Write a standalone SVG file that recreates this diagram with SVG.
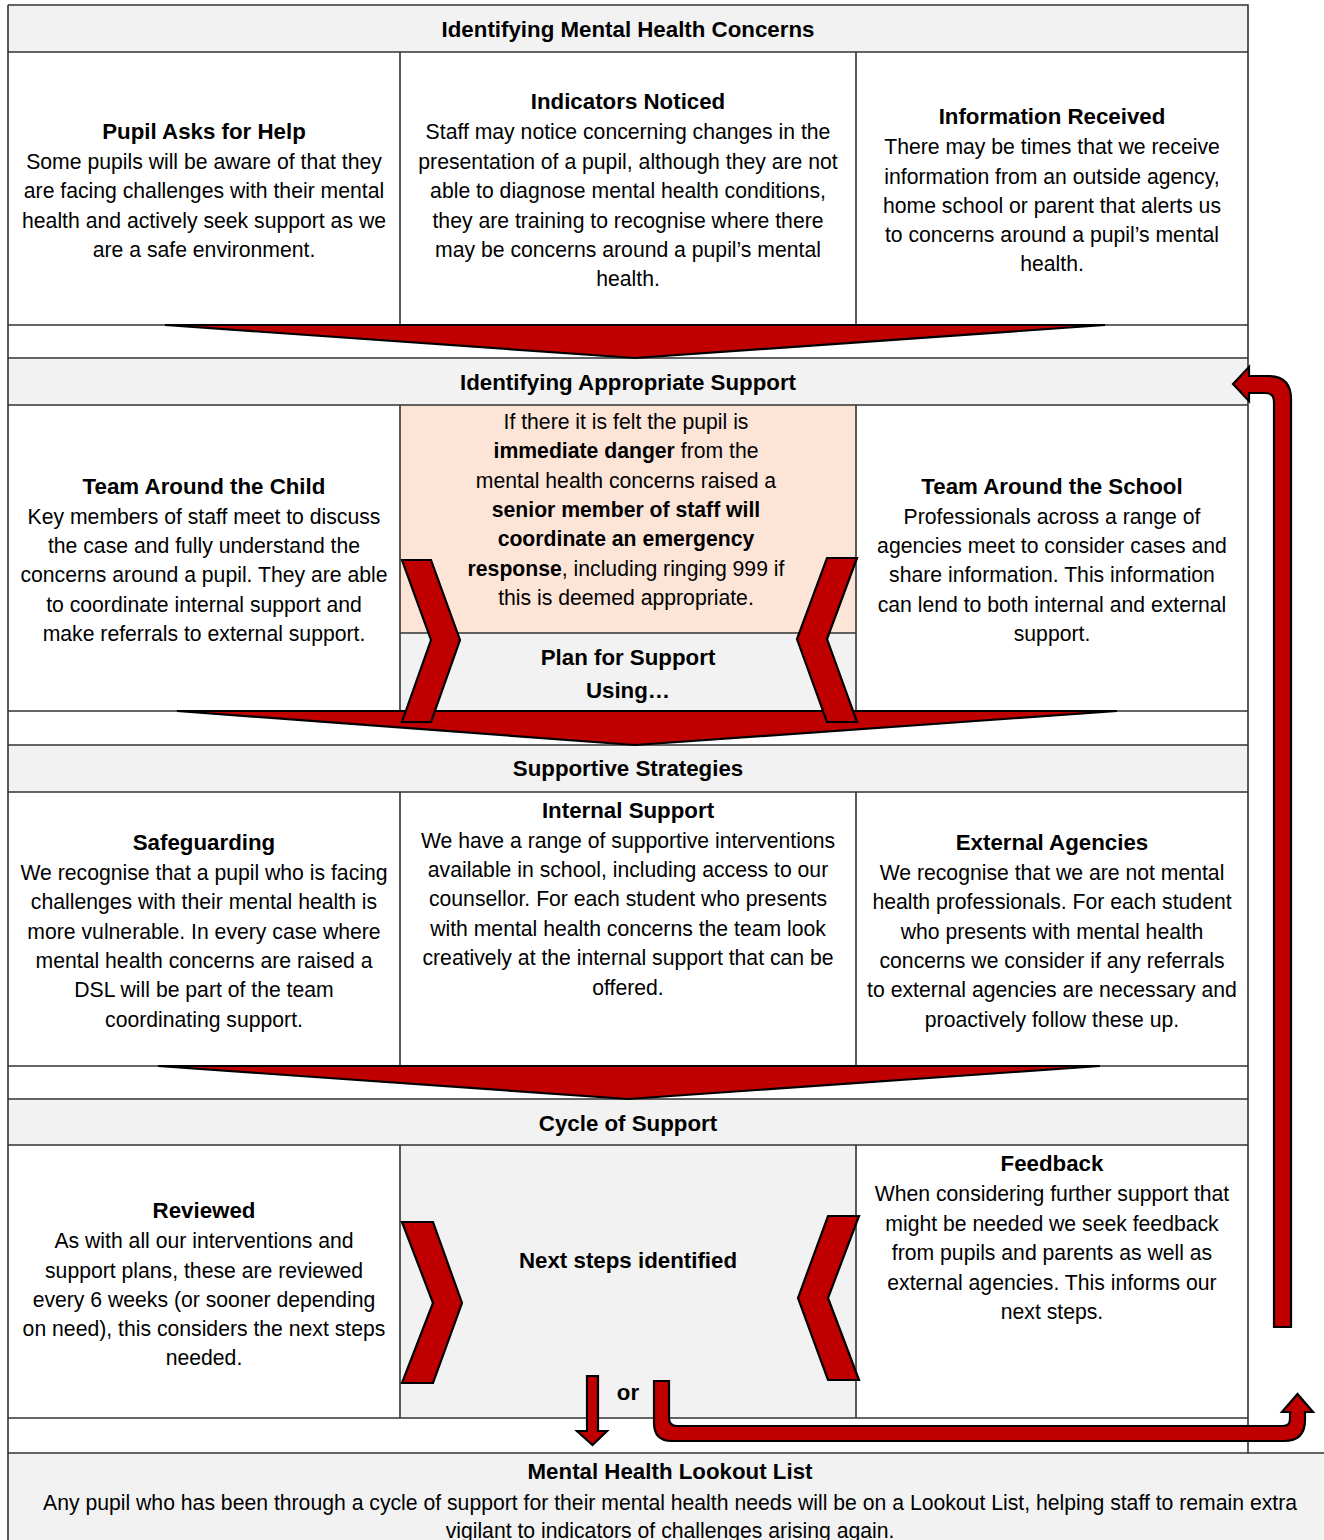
<svg xmlns="http://www.w3.org/2000/svg" width="1324" height="1540" viewBox="0 0 1324 1540">
<style>
text{font-family:"Liberation Sans",Arial,sans-serif;font-size:21.2px;fill:#000;text-anchor:middle}
.t{font-weight:bold;font-size:22.3px}
.b{font-weight:bold}
.hd{fill:#f2f2f2}
.ln{stroke:#333;stroke-width:1.6;fill:none}
.red{fill:#c00000;stroke:#000;stroke-width:2.2;stroke-linejoin:miter}
</style>
<rect width="1324" height="1540" fill="#fff"/>
<g id="grid">
<rect class="hd" x="8" y="5" width="1240" height="47"/>
<rect class="hd" x="8" y="358" width="1240" height="47"/>
<rect class="hd" x="8" y="745" width="1240" height="47"/>
<rect class="hd" x="8" y="1099" width="1240" height="46"/>
<rect fill="#fce4d6" x="400" y="405" width="456" height="228"/>
<rect class="hd" x="400" y="633" width="456" height="78"/>
<rect class="hd" x="400" y="1145" width="456" height="273"/>
<rect class="hd" x="8" y="1453" width="1330" height="90"/>
<path class="ln" d="M8,5H1248V1453M8,5V1540M8,52H1248M8,325H1248M8,358H1248M8,405H1248M8,711H1248M8,745H1248M8,792H1248M8,1066H1248M8,1099H1248M8,1145H1248M8,1418H1248M8,1453H1324M400,52V325M856,52V325M400,405V711M856,405V711M400,633H856M400,792V1066M856,792V1066M400,1145V1418M856,1145V1418"/>
</g>
<g id="h1"><text class="t" x="628" y="37">Identifying Mental Health Concerns</text></g>
<g id="pupil-asks">
<text class="t" x="204" y="139">Pupil Asks for Help</text>
<text x="204" y="169">Some pupils will be aware of that they</text>
<text x="204" y="198">are facing challenges with their mental</text>
<text x="204" y="228">health and actively seek support as we</text>
<text x="204" y="257">are a safe environment.</text>
</g>
<g id="indicators">
<text class="t" x="628" y="109">Indicators Noticed</text>
<text x="628" y="139">Staff may notice concerning changes in the</text>
<text x="628" y="169">presentation of a pupil, although they are not</text>
<text x="628" y="198">able to diagnose mental health conditions,</text>
<text x="628" y="228">they are training to recognise where there</text>
<text x="628" y="257">may be concerns around a pupil’s mental</text>
<text x="628" y="286">health.</text>
</g>
<g id="info-received">
<text class="t" x="1052" y="124">Information Received</text>
<text x="1052" y="154">There may be times that we receive</text>
<text x="1052" y="184">information from an outside agency,</text>
<text x="1052" y="213">home school or parent that alerts us</text>
<text x="1052" y="242">to concerns around a pupil’s mental</text>
<text x="1052" y="271">health.</text>
</g>
<g id="h2"><text class="t" x="628" y="390">Identifying Appropriate Support</text></g>
<g id="tac">
<text class="t" x="204" y="494">Team Around the Child</text>
<text x="204" y="524">Key members of staff meet to discuss</text>
<text x="204" y="553">the case and fully understand the</text>
<text x="204" y="582">concerns around a pupil. They are able</text>
<text x="204" y="612">to coordinate internal support and</text>
<text x="204" y="641">make referrals to external support.</text>
</g>
<g id="emergency">
<text x="626" y="429">If there it is felt the pupil is</text>
<text x="626" y="458"><tspan class="b">immediate danger</tspan> from the</text>
<text x="626" y="488">mental health concerns raised a</text>
<text x="626" y="517" class="b">senior member of staff will</text>
<text x="626" y="546" class="b">coordinate an emergency</text>
<text x="626" y="576"><tspan class="b">response</tspan>, including ringing 999 if</text>
<text x="626" y="605">this is deemed appropriate.</text>
</g>
<g id="plan">
<text class="t" x="628" y="665">Plan for Support</text>
<text class="t" x="628" y="698">Using…</text>
</g>
<g id="tas">
<text class="t" x="1052" y="494">Team Around the School</text>
<text x="1052" y="524">Professionals across a range of</text>
<text x="1052" y="553">agencies meet to consider cases and</text>
<text x="1052" y="582">share information. This information</text>
<text x="1052" y="612">can lend to both internal and external</text>
<text x="1052" y="641">support.</text>
</g>
<g id="h3"><text class="t" x="628" y="776">Supportive Strategies</text></g>
<g id="safeguarding">
<text class="t" x="204" y="850">Safeguarding</text>
<text x="204" y="880">We recognise that a pupil who is facing</text>
<text x="204" y="909">challenges with their mental health is</text>
<text x="204" y="939">more vulnerable. In every case where</text>
<text x="204" y="968">mental health concerns are raised a</text>
<text x="204" y="997">DSL will be part of the team</text>
<text x="204" y="1027">coordinating support.</text>
</g>
<g id="internal">
<text class="t" x="628" y="818">Internal Support</text>
<text x="628" y="848">We have a range of supportive interventions</text>
<text x="628" y="877">available in school, including access to our</text>
<text x="628" y="906">counsellor. For each student who presents</text>
<text x="628" y="936">with mental health concerns the team look</text>
<text x="628" y="965">creatively at the internal support that can be</text>
<text x="628" y="995">offered.</text>
</g>
<g id="external">
<text class="t" x="1052" y="850">External Agencies</text>
<text x="1052" y="880">We recognise that we are not mental</text>
<text x="1052" y="909">health professionals. For each student</text>
<text x="1052" y="939">who presents with mental health</text>
<text x="1052" y="968">concerns we consider if any referrals</text>
<text x="1052" y="997">to external agencies are necessary and</text>
<text x="1052" y="1027">proactively follow these up.</text>
</g>
<g id="h4"><text class="t" x="628" y="1131">Cycle of Support</text></g>
<g id="reviewed">
<text class="t" x="204" y="1218">Reviewed</text>
<text x="204" y="1248">As with all our interventions and</text>
<text x="204" y="1278">support plans, these are reviewed</text>
<text x="204" y="1307">every 6 weeks (or sooner depending</text>
<text x="204" y="1336">on need), this considers the next steps</text>
<text x="204" y="1365">needed.</text>
</g>
<g id="next-steps"><text class="t" x="628" y="1268">Next steps identified</text></g>
<g id="feedback">
<text class="t" x="1052" y="1171">Feedback</text>
<text x="1052" y="1201">When considering further support that</text>
<text x="1052" y="1231">might be needed we seek feedback</text>
<text x="1052" y="1260">from pupils and parents as well as</text>
<text x="1052" y="1290">external agencies. This informs our</text>
<text x="1052" y="1319">next steps.</text>
</g>
<g id="lookout">
<text class="t" x="670" y="1479">Mental Health Lookout List</text>
<text x="670" y="1510">Any pupil who has been through a cycle of support for their mental health needs will be on a Lookout List, helping staff to remain extra</text>
<text x="670" y="1538">vigilant to indicators of challenges arising again.</text>
</g>
<g id="connectors">
<path class="red" d="M165,325L1105,325L635,358Z"/>
<path class="red" d="M177,711L1117,711L635,745Z"/>
<path class="red" d="M158,1066L1100,1066L628,1099Z"/>
<path class="red" d="M402,560L431,560L460,640L431,722L402,722L431,640Z"/>
<path class="red" d="M827,558L857,558L827,639L857,722L827,722L797,639Z"/>
<path class="red" d="M402,1222L433,1222L462,1303L433,1383L402,1383L433,1303Z"/>
<path class="red" d="M828,1216L859,1216L828,1298L859,1380L828,1380L798,1298Z"/>
<path class="red" d="M1274,1327L1274,402Q1274,393 1265,393L1249,393L1249,401L1233,384L1249,367L1249,376L1268,376Q1291,376 1291,399L1291,1327Z"/>
<path class="red" d="M587,1376L598,1376L598,1431L607,1431L592.5,1445L577,1431L587,1431Z"/>
<path class="red" d="M654,1381L669,1381L669,1418Q669,1426 677,1426L1283,1426Q1290,1426 1290,1419L1290,1412L1282,1412L1297.5,1394L1313,1412L1305,1412L1305,1420Q1305,1441 1284,1441L672,1441Q654,1441 654,1423Z"/>
<text class="t" x="628" y="1400">or</text>
</g>
</svg>
